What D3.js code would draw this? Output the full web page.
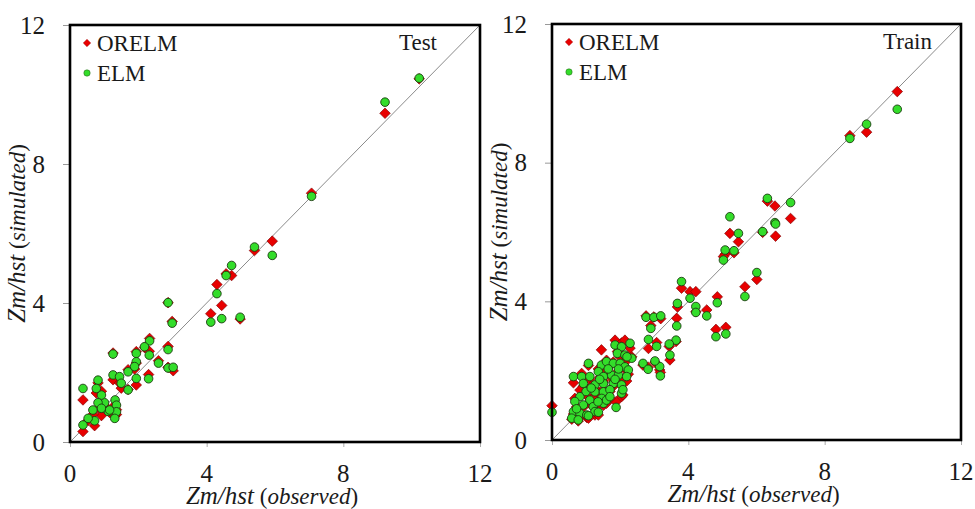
<!DOCTYPE html>
<html><head><meta charset="utf-8"><script src="https://cdn.jsdelivr.net/npm/d3@7"></script></head>
<body style="margin:0">
<svg id="s" width="975" height="509"></svg>
<script>
// ---------- DATA ----------
const axisTicks = [0, 4, 8, 12];
const seriesNames = ["ORELM", "ELM"];

// Test set: observed, ORELM simulated, ELM simulated
const testObserved = [10.22, 9.22, 7.07, 5.92, 5.40, 4.73, 4.57, 4.30, 4.44, 4.12, 4.98, 2.87, 2.99, 2.87, 2.87, 3.02,
  2.33, 2.18, 2.32, 2.59, 2.30, 1.94, 1.94, 1.89, 1.94, 1.70, 1.70, 1.26, 1.26, 1.45, 1.50, 1.32, 1.36, 1.36, 1.31,
  1.12, 1.01, 0.92, 0.82, 0.77, 0.82, 0.92, 0.67, 0.72, 0.53, 0.38, 0.38, 1.16];
const testORELM = [10.45, 9.46, 7.16, 5.78, 5.51, 4.79, 4.84, 4.53, 3.93, 3.69, 3.54, 4.01, 3.47, 2.75, 2.15, 2.05,
  2.98, 2.72, 2.61, 2.34, 1.94, 2.60, 2.27, 2.10, 1.64, 2.08, 1.51, 2.56, 1.79, 1.70, 1.55, 1.07, 0.93, 0.79, 0.75,
  0.93, 1.05, 1.46, 1.70, 1.41, 0.98, 0.76, 0.79, 0.47, 0.62, 0.30, 1.21, 0.85];
const testELM = [10.47, 9.78, 7.07, 5.37, 5.61, 5.08, 4.79, 4.27, 3.55, 3.45, 3.59, 4.01, 3.42, 2.66, 2.13, 2.15,
  2.91, 2.74, 2.50, 2.27, 1.82, 2.55, 2.31, 2.17, 1.83, 2.02, 1.50, 2.53, 1.93, 1.88, 1.69, 1.21, 1.06, 0.87, 0.68,
  0.88, 1.13, 1.35, 1.78, 1.54, 1.13, 0.97, 0.92, 0.61, 0.68, 0.49, 1.54, 0.92];

// Train set: observed, ORELM simulated, ELM simulated
const trainObserved = [0.00, 10.13, 9.23, 8.74, 7.00, 6.32, 6.54, 6.56, 6.18, 5.22, 5.47, 5.08, 5.03, 5.34, 6.01, 5.66,
  4.85, 4.81, 5.10, 3.80, 4.05, 4.22, 4.22, 4.54, 3.68, 3.66, 2.76, 2.99, 3.19, 2.90, 2.83, 3.64, 3.07, 3.44, 3.46,
  3.16, 3.18, 2.67, 2.82, 3.02,
  1.85, 2.04, 2.29, 1.92, 2.14, 2.34, 1.45, 1.07, 1.60, 1.80, 2.00, 2.14, 2.24, 1.36, 0.63, 0.87, 1.11, 1.51, 1.75,
  1.95, 2.19, 0.92, 1.26, 1.51, 1.80, 2.04, 1.26, 1.51, 2.04, 0.82, 1.11, 1.46, 0.67, 0.92, 1.21, 1.88, 1.51, 0.63,
  0.82, 1.02, 1.26, 0.58, 0.77, 1.07, 1.36, 1.60, 1.70, 1.40, 1.65, 1.95, 2.20, 1.00, 1.15, 1.35, 1.70, 1.85, 0.72, 2.08];
const trainORELM = [0.99, 10.05, 8.88, 8.78, 6.39, 6.89, 6.75, 5.88, 5.99, 5.96, 5.72, 5.36, 5.29, 5.40, 4.63, 4.42,
  4.13, 3.19, 3.25, 4.38, 4.28, 4.28, 3.70, 3.75, 3.84, 3.51, 3.58, 3.55, 3.50, 3.30, 2.64, 2.84, 2.81, 2.70, 2.31,
  2.02, 1.95, 2.16, 2.10, 2.24,
  2.88, 2.80, 2.65, 2.55, 2.88, 2.40, 2.60, 2.15, 2.30, 2.25, 2.40, 2.05, 1.90, 2.05, 1.65, 1.92, 1.75, 1.95, 1.80,
  2.00, 1.70, 1.55, 1.50, 1.70, 1.55, 1.75, 1.30, 1.45, 1.25, 1.44, 1.05, 1.25, 1.20, 0.95, 1.05, 1.10, 1.00, 0.75,
  0.70, 0.65, 0.72, 0.60, 0.55, 0.63, 0.72, 1.06, 1.40, 1.80, 2.10, 2.15, 2.30, 1.30, 1.55, 1.00, 1.20, 1.70, 0.95, 1.30];
const trainELM = [0.80, 9.54, 9.11, 8.70, 6.85, 6.97, 6.27, 6.23, 6.01, 6.44, 5.96, 5.48, 5.19, 5.46, 4.83, 4.14,
  3.96, 2.98, 3.06, 4.57, 4.09, 3.85, 3.68, 3.58, 3.94, 3.29, 3.54, 3.54, 3.58, 3.22, 2.90, 2.88, 2.70, 2.77, 2.45,
  2.12, 1.85, 2.21, 2.04, 2.28,
  2.74, 2.69, 2.79, 2.50, 2.45, 2.36, 2.16, 2.21, 2.26, 2.21, 2.21, 2.11, 2.02, 1.97, 1.83, 1.83, 1.83, 1.83, 1.87,
  1.87, 1.83, 1.63, 1.59, 1.63, 1.63, 1.59, 1.39, 1.39, 1.35, 1.25, 1.15, 1.20, 1.11, 1.01, 0.96, 0.94, 1.06, 0.82,
  0.77, 0.72, 0.82, 0.63, 0.58, 0.70, 0.80, 1.15, 1.45, 1.75, 2.05, 2.05, 2.40, 1.40, 1.50, 1.10, 1.25, 1.75, 0.90, 1.45];

// ---------- DRAWING ----------
const svg = d3.select("#s");
const RED = "#e80000", GREEN = "#33dd2a";
const FONT = "Liberation Serif";
const textLayer = [];   // texts are appended straight to the <svg> root after the marks

function queueText(spec) { textLayer.push(spec); }

function drawPanel(cfg) {
  const x = d3.scaleLinear().domain([0, 12]).range([cfg.left, cfg.right]);
  const y = d3.scaleLinear().domain([0, 12]).range([cfg.bottom, cfg.top]);
  const g = svg.append("g");

  const ya = g.append("g").attr("transform", `translate(${cfg.left},0)`)
    .call(d3.axisLeft(y).tickValues(axisTicks).tickSize(7).tickFormat(() => ""));
  ya.select(".domain").remove();
  ya.selectAll("line").attr("stroke", "#999");
  ya.selectAll("text").remove();
  axisTicks.forEach(t => queueText({ x: cfg.left - 25, y: y(t) + 8.5, size: 25, str: String(t), anchor: "end" }));

  const xa = g.append("g").attr("transform", `translate(0,${cfg.bottom})`)
    .call(d3.axisBottom(x).tickValues(axisTicks).tickSize(5).tickFormat(() => ""));
  xa.select(".domain").remove();
  xa.selectAll("line").attr("stroke", "#aaa");
  xa.selectAll("text").remove();
  axisTicks.forEach(t => queueText({ x: x(t), y: cfg.bottom + 40, size: 25, str: String(t), anchor: "middle" }));

  g.append("line")
    .attr("x1", x(0)).attr("y1", y(0)).attr("x2", x(12)).attr("y2", y(12))
    .attr("stroke", "#8a8a8a").attr("stroke-width", 1);

  const data = cfg.obs.map((o, i) => ({ o, a: cfg.orelm[i], b: cfg.elm[i] }));
  const diamond = d3.symbol().type(d3.symbolSquare).size(56)();
  g.append("g").selectAll("path").data(data).join("path")
    .attr("d", diamond)
    .attr("transform", d => `translate(${x(d.o)},${y(d.a)}) rotate(45)`)
    .attr("fill", RED).attr("stroke", "#7a0000").attr("stroke-width", 0.6);
  g.append("g").selectAll("circle").data(data).join("circle")
    .attr("cx", d => x(d.o)).attr("cy", d => y(d.b)).attr("r", 4.3)
    .attr("fill", GREEN).attr("stroke", "#1d3a12").attr("stroke-width", 0.9);

  g.append("rect")
    .attr("x", cfg.left).attr("y", cfg.top)
    .attr("width", cfg.right - cfg.left).attr("height", cfg.bottom - cfg.top)
    .attr("fill", "none").attr("stroke", "#000").attr("stroke-width", 2.6);

  const lx = cfg.left + 17;
  g.append("path").attr("d", d3.symbol().type(d3.symbolSquare).size(28)())
    .attr("transform", `translate(${lx},${cfg.top + 18}) rotate(45)`)
    .attr("fill", RED).attr("stroke", "#900").attr("stroke-width", 0.4);
  queueText({ x: lx + 10, y: cfg.top + 26, size: 23, str: seriesNames[0] });
  g.append("circle").attr("cx", lx).attr("cy", cfg.top + 48).attr("r", 3.2)
    .attr("fill", GREEN).attr("stroke", "#2a5a1a").attr("stroke-width", 0.5);
  queueText({ x: lx + 10, y: cfg.top + 56, size: 23, str: seriesNames[1] });

  queueText({ x: cfg.labelX, y: cfg.top + 25, size: 23, str: cfg.label, anchor: "end" });

  queueText({ x: (cfg.left + cfg.right) / 2 - 3, y: cfg.bottom + 62, size: 23, anchor: "middle",
    spans: [["Zm/hst", 25, true], [" (", 23, false], ["observed", 23, true], [")", 23, false]] });
  queueText({ x: 0, y: 0, size: 23, anchor: "middle",
    transform: `translate(${cfg.left - 45},${(cfg.top + cfg.bottom) / 2}) rotate(-90)`,
    spans: [["Zm/hst", 25, true], [" (", 23, false], ["simulated", 23, true], [")", 23, false]] });
}

drawPanel({ left: 70, right: 480, top: 25, bottom: 442, label: "Test", labelX: 437,
  obs: testObserved, orelm: testORELM, elm: testELM });
drawPanel({ left: 552, right: 961, top: 24, bottom: 440, label: "Train", labelX: 932,
  obs: trainObserved, orelm: trainORELM, elm: trainELM });

// texts directly on the svg root, font given on each element
textLayer.forEach(t => {
  const el = svg.append("text").attr("x", t.x).attr("y", t.y)
    .attr("font-family", FONT).attr("font-size", t.size)
    .attr("text-anchor", t.anchor || "start").attr("fill", "#1a1a1a");
  if (t.transform) el.attr("transform", t.transform);
  if (t.spans) {
    t.spans.forEach(([s, sz, it]) => {
      el.append("tspan").attr("font-family", FONT).attr("font-size", sz)
        .attr("font-style", it ? "italic" : "normal").text(s);
    });
  } else {
    el.text(t.str);
  }
});
</script>
</body>
</html>
